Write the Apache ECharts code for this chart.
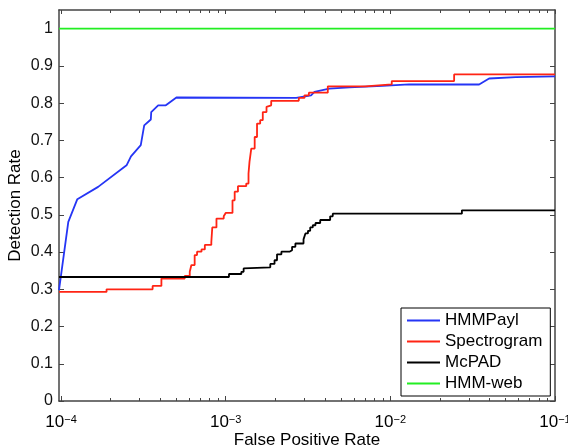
<!DOCTYPE html>
<html>
<head>
<meta charset="utf-8">
<script src="https://cdn.jsdelivr.net/npm/echarts@6/dist/echarts.min.js"></script>
<style>
html, body { margin: 0; padding: 0; background: #fff; }
#main { width: 568px; height: 446px; }
</style>
</head>
<body>
<div id="main"></div>
<script>
// axis range
var xMin = 9.72e-5, xMax = 0.1;
var yMin = 0, yMax = 1.05;

var seriesNames = ['HMMPayl', 'Spectrogram', 'McPAD', 'HMM-web'];
var seriesColors = ['#2535f5', '#ff2414', '#000000', '#22ee22'];

// HMMPayl
var hmmPaylX = [9.72e-5, 1.107e-4, 1.256e-4, 1.68e-4, 2.5e-4, 2.66e-4, 3.05e-4, 3.2e-4, 3.51e-4, 3.53e-4,
    3.89e-4, 4.33e-4, 5.02e-4, 2.68e-3, 3.3e-3, 3.46e-3, 4.26e-3, 5.64e-3, 8.94e-3, 0.013, 0.0346, 0.0398, 0.0578, 0.1];
var hmmPaylY = [0.298, 0.481, 0.542, 0.575, 0.633, 0.657, 0.687, 0.740, 0.756, 0.776,
    0.794, 0.794, 0.815, 0.814, 0.821, 0.830, 0.839, 0.842, 0.846, 0.850, 0.850, 0.866, 0.870, 0.872];

// Spectrogram
var spectroX = [9.72e-5, 1.89e-4, 3.6e-4, 4.07e-4, 5.64e-4, 6.05e-4, 6.19e-4, 6.48e-4, 6.7e-4, 7.13e-4,
    7.47e-4, 8.18e-4, 8.29e-4, 8.79e-4, 9.73e-4, 1.0e-3, 1.1e-3, 1.134e-3, 1.187e-3, 1.333e-3,
    1.376e-3, 1.395e-3, 1.43e-3, 1.5e-3, 1.55e-3, 1.62e-3, 1.68e-3, 1.77e-3, 1.8e-3, 1.89e-3,
    2.78e-3, 3.01e-3, 3.2e-3, 4.17e-3, 7.05e-3, 0.0102, 0.0244, 0.1];
var spectroY = [0.293, 0.300, 0.309, 0.329, 0.336, 0.347, 0.365, 0.392, 0.401, 0.407,
    0.419, 0.427, 0.466, 0.490, 0.496, 0.505, 0.539, 0.562, 0.577, 0.584,
    0.611, 0.642, 0.678, 0.709, 0.745, 0.754, 0.776, 0.790, 0.794, 0.806,
    0.814, 0.821, 0.828, 0.845, 0.850, 0.859, 0.877, 0.877];

// McPAD
var mcpadX = [9.72e-5, 1.047e-3, 1.245e-3, 1.285e-3, 1.32e-3, 1.866e-3, 1.98e-3, 2.05e-3, 2.18e-3, 2.44e-3,
    2.53e-3, 2.65e-3, 2.97e-3, 3.05e-3, 3.16e-3, 3.26e-3, 3.38e-3, 3.51e-3, 3.75e-3, 4.31e-3,
    4.47e-3, 0.0272, 0.1];
var mcpadY = [0.333, 0.341, 0.347, 0.356, 0.359, 0.368, 0.378, 0.394, 0.401, 0.405,
    0.414, 0.423, 0.434, 0.450, 0.457, 0.466, 0.472, 0.478, 0.486, 0.496,
    0.503, 0.512, 0.512];

// HMM-web
var hmmWebX = [9.72e-5, 0.1];
var hmmWebY = [1, 1];

// ticks
var xMajorTicks = [1e-4, 1e-3, 1e-2, 1e-1];
var xMinorTicks = [2e-4, 3e-4, 4e-4, 5e-4, 6e-4, 7e-4, 8e-4, 9e-4,
    2e-3, 3e-3, 4e-3, 5e-3, 6e-3, 7e-3, 8e-3, 9e-3,
    2e-2, 3e-2, 4e-2, 5e-2, 6e-2, 7e-2, 8e-2, 9e-2];
var yTicks = [0, 0.1, 0.2, 0.3, 0.4, 0.5, 0.6, 0.7, 0.8, 0.9, 1];

function zip(xs, ys) {
    var out = [];
    for (var i = 0; i < xs.length; i++) out.push([xs[i], ys[i]]);
    return out;
}

var FONT = 'Liberation Sans, Arial, Helvetica, sans-serif';
var AXIS_COLOR = '#444';

function xAxisDef(pos, ticks, len, showLine) {
    return {
        type: 'log',
        position: pos,
        min: xMin,
        max: xMax,
        splitLine: { show: false },
        axisLine: { show: showLine, lineStyle: { color: AXIS_COLOR, width: 1.5 } },
        axisTick: { inside: true, length: len, customValues: ticks, lineStyle: { color: AXIS_COLOR } },
        axisLabel: { show: false }
    };
}

var bottomMajor = xAxisDef('bottom', xMajorTicks, 5, true);
bottomMajor.name = 'False Positive Rate';
bottomMajor.nameLocation = 'middle';
bottomMajor.nameGap = 31;
bottomMajor.nameMoveOverlap = false;
bottomMajor.nameTextStyle = { fontFamily: FONT, fontSize: 17, color: '#000' };
bottomMajor.axisLabel = {
    show: true,
    customValues: xMajorTicks,
    margin: 13,
    formatter: function (v) {
        var e = Math.round(Math.log10(v));
        return '{b|10}{e|' + (e < 0 ? '\u2212' : '') + Math.abs(e) + '}';
    },
    rich: {
        b: { fontFamily: FONT, fontSize: 17, color: '#000', lineHeight: 17, padding: [4, 0, 0, 0], verticalAlign: 'bottom' },
        e: { fontFamily: FONT, fontSize: 11, color: '#000', lineHeight: 11, verticalAlign: 'top' }
    }
};

function yAxisDef(pos, labels) {
    return {
        type: 'value',
        position: pos,
        min: yMin,
        max: yMax,
        splitLine: { show: false },
        axisLine: { show: true, lineStyle: { color: AXIS_COLOR, width: 1.5 } },
        axisTick: { inside: true, length: 5, customValues: yTicks, lineStyle: { color: AXIS_COLOR } },
        axisLabel: labels ? {
            show: true, customValues: yTicks, margin: 6,
            fontFamily: FONT, fontSize: 16, color: '#111'
        } : { show: false }
    };
}

var yLeft = yAxisDef('left', true);
yLeft.name = 'Detection Rate';
yLeft.nameLocation = 'middle';
yLeft.nameGap = 35;
yLeft.nameMoveOverlap = false;
yLeft.nameTextStyle = { fontFamily: FONT, fontSize: 17, color: '#000' };

var option = {
    animation: false,
    backgroundColor: '#fff',
    grid: { left: 59, right: 13, top: 10, bottom: 45, containLabel: false, outerBoundsMode: 'none' },
    legend: {
        orient: 'vertical',
        left: 401,
        top: 308,
        padding: [4, 8, 4, 6],
        itemGap: 4,
        itemWidth: 33,
        itemHeight: 2,
        icon: 'rect',
        borderColor: '#000',
        borderWidth: 1,
        borderRadius: 0,
        backgroundColor: '#fff',
        textStyle: { fontFamily: FONT, fontSize: 17, color: '#000', lineHeight: 17 },
        data: seriesNames
    },
    xAxis: [
        bottomMajor,
        xAxisDef('bottom', xMinorTicks, 3, false),
        xAxisDef('top', xMajorTicks, 4, true),
        xAxisDef('top', xMinorTicks, 3, false)
    ],
    yAxis: [yLeft, yAxisDef('right', false)],
    series: [
        { name: seriesNames[0], data: zip(hmmPaylX, hmmPaylY) },
        { name: seriesNames[1], data: zip(spectroX, spectroY), step: 'end' },
        { name: seriesNames[2], data: zip(mcpadX, mcpadY), step: 'end' },
        { name: seriesNames[3], data: zip(hmmWebX, hmmWebY) }
    ].map(function (s, i) {
        s.type = 'line';
        s.xAxisIndex = 0;
        s.yAxisIndex = 0;
        s.showSymbol = false;
        s.symbol = 'none';
        s.color = seriesColors[i];
        s.lineStyle = { color: seriesColors[i], width: 1.8 };
        s.emphasis = { disabled: true };
        return s;
    })
};

var myChart = echarts.init(document.getElementById('main'));
myChart.setOption(option);
</script>
</body>
</html>
